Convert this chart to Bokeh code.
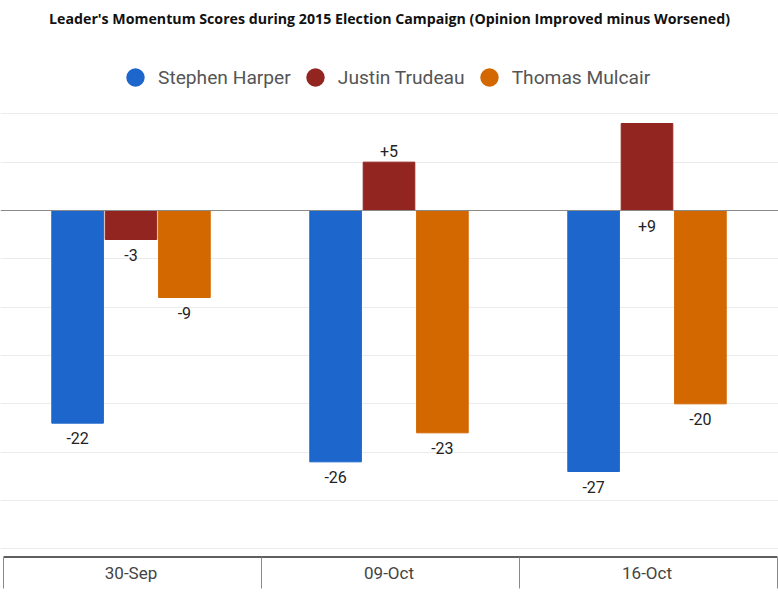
from bokeh.plotting import figure
from bokeh.models import ColumnDataSource, Range1d, Grid, FixedTicker, Span, Label, Legend, LegendItem
from bokeh.core.properties import value
from bokeh.embed import file_html
from bokeh.resources import INLINE

# ---- data ----
dates = ["30-Sep", "09-Oct", "16-Oct"]
leaders = ["Stephen Harper", "Justin Trudeau", "Thomas Mulcair"]
harper = [-22, -26, -27]
trudeau = [-3, 5, 9]
mulcair = [-9, -23, -20]
colors = ["#1c66cc", "#922520", "#d36700"]
grid_ticks = [10, 5, 0, -5, -10, -15, -20, -25, -30, -35]
title_text = "Leader's Momentum Scores during 2015 Election Campaign (Opinion Improved minus Worsened)"

# ---- geometry (pixels) ----
W, H = 778, 598
ZERO_PY = 210.0
PX_PER_UNIT = 435.0 / 45.0
X0_PX = 1.5
PX_PER_CAT = 258.0


def y_of(py):
    return (ZERO_PY - py) / PX_PER_UNIT


def x_of(px):
    return (px - X0_PX) / PX_PER_CAT


p = figure(width=W, height=H, output_backend="svg", toolbar_location=None,
           x_range=Range1d(x_of(0), x_of(W)), y_range=Range1d(y_of(H), y_of(0)),
           x_axis_type=None, y_axis_type=None, min_border=0,
           outline_line_color=None, background_fill_color="white")

p.add_layout(Grid(dimension=1, ticker=FixedTicker(ticks=grid_ticks),
                  grid_line_color="#ebebeb", grid_line_width=1))

offsets = [-0.207, 0.0, 0.207]
series = [harper, trudeau, mulcair]
legend_items = []
for name, vals, col, off in zip(leaders, series, colors, offsets):
    xs = [i + 0.5 + off for i in range(len(dates))]
    ly, loff = [], []
    for v in vals:
        if v < 0:
            ly.append(v); loff.append(15)
        elif v < 8:
            ly.append(v); loff.append(-11)
        else:
            ly.append(0); loff.append(15)
    src = ColumnDataSource(dict(x=xs, top=vals, label=[f"{v:+d}" for v in vals], ly=ly, loff=loff))
    p.vbar(x="x", top="top", bottom=0, width=0.2, source=src,
           fill_color=col, line_color=col, line_width=1)
    p.text(x="x", y="ly", text="label", y_offset="loff", source=src,
           text_align="center", text_baseline="middle",
           text_font=value("Roboto"), text_font_size="16px", text_color="#222222")
    # legend-only marker, placed outside the visible range
    dummy = p.scatter(x=[-5], y=[-500], marker="circle", size=20, fill_color=col, line_color=None)
    legend_items.append(LegendItem(label=name, renderers=[dummy]))

p.add_layout(Span(location=0, dimension="width", line_color="#8a8a8a", line_width=1))

# bottom category table
p.segment(x0=[x_of(3)], x1=[x_of(777)], y0=[y_of(556.5)], y1=[y_of(556.5)],
          line_color="#5f5f5f", line_width=2)
sep_x = [x_of(3) + i for i in range(len(dates) + 1)]
p.segment(x0=sep_x, x1=sep_x, y0=[y_of(557)] * len(sep_x), y1=[y_of(588)] * len(sep_x),
          line_color="#8a8a8a", line_width=1)
p.text(x=[i + 0.5 for i in range(len(dates))], y=[y_of(572)] * len(dates), text=dates,
       text_align="center", text_baseline="middle",
       text_font=value("Roboto"), text_font_size="17px", text_color="#444444")

legend = Legend(items=legend_items, orientation="horizontal", location=(112, 498),
                glyph_width=46, glyph_height=46, label_standoff=0, spacing=1,
                padding=0, margin=0, border_line_color=None, background_fill_alpha=0,
                label_text_font="Roboto", label_text_font_size="19.2px",
                label_text_color="#555555")
p.add_layout(legend)

p.add_layout(Label(x=389, y=H - 18, x_units="screen", y_units="screen", text=title_text,
                   text_align="center", text_baseline="middle",
                   text_font="Open Sans", text_font_style="bold", text_font_size="14.2px",
                   text_color="#111111"))

open("out.html", "w").write(file_html(p, INLINE))
